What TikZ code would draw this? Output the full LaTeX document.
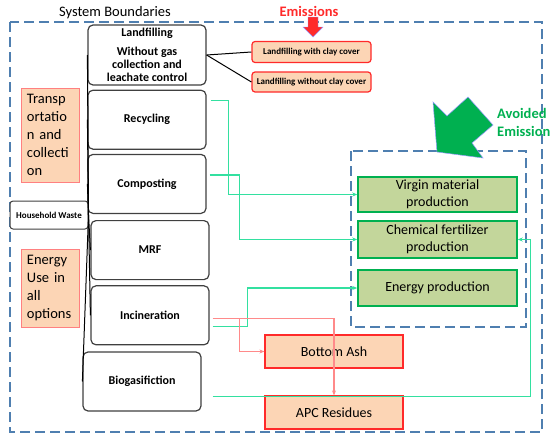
\documentclass[tikz,border=0pt]{standalone}
\usepackage{fontspec}
\setmainfont{Carlito}
\usepackage{tikz}
\usetikzlibrary{arrows.meta,positioning}
\usepackage{xcolor}
\definecolor{sysb}{HTML}{4F7FB0}
\definecolor{peach}{HTML}{FCD5B5}
\definecolor{emis}{HTML}{FF2A2A}
\definecolor{avgreen}{HTML}{00B050}
\definecolor{prodf}{HTML}{C3D69B}
\definecolor{flowg}{HTML}{33E0A0}
\definecolor{flowr}{HTML}{FF8A8A}
\definecolor{opt}{HTML}{404040}

\begin{document}
\begin{tikzpicture}[x=1pt, y=-1pt, >=Latex,
  proc/.style={draw=opt, line width=1.2pt, rounded corners=5pt, fill=white, minimum width=118pt, minimum height=59pt, align=center, inner sep=0pt, font=\fontsize{12}{13}\selectfont\bfseries},
  side/.style={draw=red!50, line width=1pt, fill=peach, minimum width=58pt, inner xsep=6pt, text width=46pt, align=left, font=\fontsize{14.5}{18}\selectfont},
  lfill/.style={draw=emis, line width=1.2pt, rounded corners=3pt, fill=peach, minimum width=119pt, minimum height=21pt, inner sep=0pt, font=\fontsize{9}{10}\selectfont\bfseries},
  resid/.style={draw=emis, line width=1.2pt, fill=peach, minimum width=138pt, minimum height=33pt, inner sep=0pt, font=\fontsize{14}{16}\selectfont},
  prod/.style={draw=avgreen, line width=1.5pt, fill=prodf, minimum width=159pt, minimum height=36pt, align=center, inner sep=0pt, font=\fontsize{14}{17}\selectfont},
  bound/.style={draw=sysb, line width=1.5pt, dash pattern=on 10pt off 5pt},
  gflow/.style={draw=flowg, line width=1.3pt, -{Stealth[length=5pt,width=4pt]}},
  rflow/.style={draw=flowr, line width=1.3pt, -{Stealth[length=5pt,width=4pt]}},
  link/.style={draw=black, line width=1pt}]

\useasboundingbox (0,0) rectangle (550,442);

% system boundaries
\draw[bound] (10,22) rectangle (542,432);
\draw[bound] (351,151) rectangle (526,327);
\node[font=\fontsize{14.5}{16}\selectfont] (sysl) at (115,13) {System Boundaries};

% treatment options
\node[proc, minimum height=60pt] (land) at (147,55) {Landfilling\\[6pt]Without gas\\collection and\\leachate control};
\node[proc, below=4pt of land] (recy) {Recycling};
\node[proc, below=4pt of recy] (comp) {Composting};
\node[proc, below=6pt of comp, xshift=3pt] (mrf) {MRF};
\node[proc, below=5pt of mrf] (inci) {Incineration};
\node[proc, below=6pt of inci, xshift=-8pt] (biog) {Biogasifiction};

\node[draw=opt, line width=1pt, rounded corners=3pt, fill=white, minimum width=78pt, minimum height=28pt, inner sep=0pt, font=\fontsize{9}{10}\selectfont\bfseries] (hw) at (49,215) {Household Waste};

\node[side, minimum height=94pt] (trans) at (50,135) {Transp\\ortatio\\n and\\collecti\\on};
\node[side, minimum height=78pt] (enuse) at (50,288) {Energy\\Use in\\all\\options};

% landfill variants
\node[lfill] (clay1) at (311.5,52) {Landfilling with clay cover};
\node[lfill, minimum height=20pt] (clay2) at (311.5,82) {Landfilling without clay cover};

\node[font=\fontsize{14.5}{16}\selectfont\bfseries, text=emis] (emtxt) at (309,11) {Emissions};
\filldraw[fill=emis, draw=blue!40, line width=0.4pt] (308,17) -- (318,17) -- (318,27) -- (323,27) -- (313,37) -- (303,27) -- (308,27) -- cycle;

% avoided emissions
\filldraw[fill=avgreen, draw=blue!40, line width=0.5pt] (433,102) -- (447,116) -- (468,97) -- (493,125) -- (472,143) -- (483,158) -- (437,152) -- cycle;
\node[anchor=west, align=left, text=avgreen, inner sep=0pt, font=\fontsize{14.5}{18}\selectfont\bfseries] (avtxt) at (497,122) {Avoided\\Emissions};

\node[prod, minimum height=35pt] (virgin) at (437.5,194.5) {Virgin material\\production};
\node[prod, minimum height=37pt] (chem) at (437.5,239.5) {Chemical fertilizer\\production};
\node[prod] (enprod) at (437.5,288) {Energy production};

% residues
\node[resid] (bash) at (334,351.5) {Bottom Ash};
\node[resid] (apc) at (334,412.5) {APC Residues};

% connectors
\foreach \b in {land,recy,comp,mrf,inci,biog}
  \draw[link] (hw.east) -- (\b.west);
\draw[link] (land.east) -- (clay1.west);
\draw[link] (land.east) -- (clay2.west);

\draw[gflow] ([shift={(4,-19)}]recy.east) -- ++(18,0) |- (virgin.west);
\draw[gflow] ([shift={(3,-9)}]comp.east) -- ++(30,0) |- (chem.west);
\draw[gflow] ([shift={(3,11)}]inci.east) -- ++(35,0) |- (enprod.west);
\draw[gflow] ([shift={(11,15)}]biog.east) -- ++(318,0) |- (chem.east);

\coordinate (rsplit) at ([shift={(30,3)}]inci.east);
\draw[rflow] ([shift={(3,3)}]inci.east) -| (apc.north);
\draw[rflow] (rsplit) |- (bash.west);
\end{tikzpicture}
\end{document}
